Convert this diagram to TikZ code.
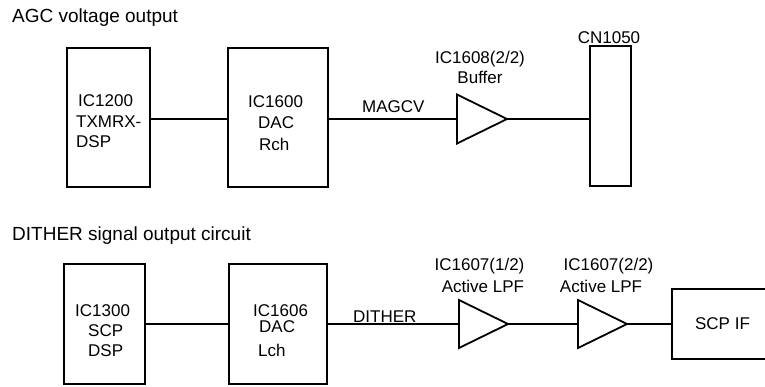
\documentclass[tikz,border=0pt]{standalone}
\usepackage{fontspec}
\setmainfont{Liberation Sans}
\tikzset{
  blk/.style={draw, line width=1.8pt, inner sep=0pt},
  wire/.style={line width=1.5pt},
  amp/.style={line width=1.8pt, line join=miter},
  txt/.style={inner sep=0pt, anchor=base west, font=\fontsize{17}{20}\selectfont},
  ttl/.style={inner sep=0pt, anchor=base west, font=\fontsize{19}{22}\selectfont},
  lbl/.style={inner sep=0pt, anchor=base, font=\fontsize{17}{20}\selectfont},
}
\begin{document}
\begin{tikzpicture}[x=1pt,y=-1pt]
\useasboundingbox (0,0) rectangle (765,386);
% ---------- AGC section ----------
\node[ttl] (t1) at (12,22.7) {AGC voltage output};
\node[blk, minimum width=83pt, minimum height=139pt] (b1) at (108.5,117.5) {};
\node[blk, minimum width=100pt, minimum height=139pt] (b2) at (278,117.5) {};
\node[blk, minimum width=41pt, minimum height=140pt] (cn) at (610.5,116) {};
\node[txt] (b1a) at (78,106) {IC1200};
\node[txt] (b1b) at (76,127) {TXMRX-};
\node[txt] (b1c) at (76,147) {DSP};
\node[txt] (b2a) at (248,107) {IC1600};
\node[txt] (b2b) at (258,128) {DAC};
\node[txt] (b2c) at (259,150) {Rch};
\node[lbl] (cnl) at (609,43) {CN1050};
\node[lbl] (a1l1) at (480,63) {IC1608(2/2)};
\node[lbl] (a1l2) at (480,83) {Buffer};
\node[txt] (magcv) at (362,112) {MAGCV};
\coordinate (a1in) at (457,119);
\coordinate (a1out) at (507,119);
\draw[amp] (457,94.5) -- (a1out) -- (457,143.5) -- cycle;
\draw[wire] ([yshift=-1.5pt]b1.east) -- ([yshift=-1.5pt]b2.west);
\draw[wire] (b2.east |- a1in) -- (a1in);
\draw[wire] (a1out) -- (cn.west |- a1out);
% ---------- DITHER section ----------
\node[ttl] (t2) at (12,240.5) {DITHER signal output circuit};
\node[blk, minimum width=81pt, minimum height=120pt] (b3) at (104.5,324) {};
\node[blk, minimum width=98pt, minimum height=120pt] (b4) at (278,324) {};
\node[blk, minimum width=128pt, minimum height=70pt] (scp) at (736,324) {};
\node[txt] (b3a) at (75,316) {IC1300};
\node[txt] (b3b) at (88,336) {SCP};
\node[txt] (b3c) at (88,356) {DSP};
\node[txt] (b4a) at (253,316) {IC1606};
\node[txt] (b4b) at (259,332) {DAC};
\node[txt] (b4c) at (258,356) {Lch};
\node[lbl] (scpl) at (722.5,329) {SCP IF};
\node[txt] (dith) at (353,322) {DITHER};
\node[lbl] (a2l1) at (479.5,270) {IC1607(1/2)};
\node[lbl] (a2l2) at (483,292) {Active LPF};
\node[lbl] (a3l1) at (608.5,270) {IC1607(2/2)};
\node[lbl] (a3l2) at (601,292) {Active LPF};
\coordinate (a2in) at (459,324);
\coordinate (a2out) at (508,324);
\coordinate (a3in) at (578,324);
\coordinate (a3out) at (627,324);
\draw[amp] (459,300) -- (a2out) -- (459,348) -- cycle;
\draw[amp] (578,300) -- (a3out) -- (578,348) -- cycle;
\draw[wire] (b3.east) -- (b4.west);
\draw[wire] (b4.east) -- (a2in);
\draw[wire] (a2out) -- (a3in);
\draw[wire] (a3out) -- (scp.west);
\end{tikzpicture}
\end{document}
